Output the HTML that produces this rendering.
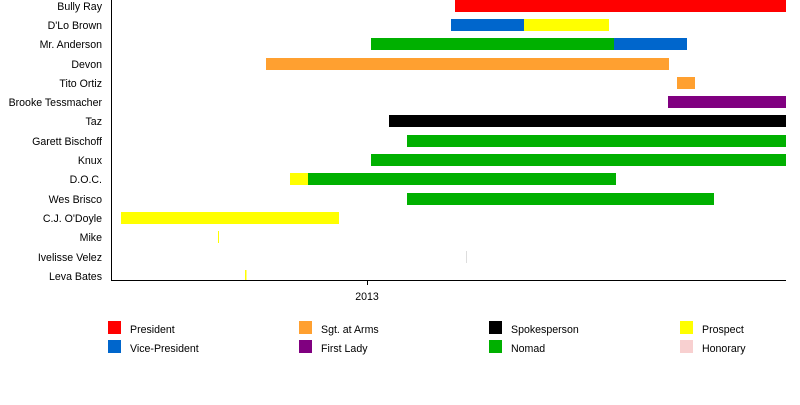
<!DOCTYPE html>
<html><head><style>
body{margin:0;background:#fff;width:800px;height:400px;overflow:hidden}
svg{font-family:"Liberation Sans",sans-serif;font-size:10.6px}
</style></head><body>
<svg width="800" height="400" xmlns="http://www.w3.org/2000/svg">
<g text-anchor="end" fill="#000">
<text x="102" y="10">Bully Ray</text>
<text x="102" y="29">D'Lo Brown</text>
<text x="102" y="48">Mr. Anderson</text>
<text x="102" y="68">Devon</text>
<text x="102" y="87">Tito Ortiz</text>
<text x="102" y="106">Brooke Tessmacher</text>
<text x="102" y="125">Taz</text>
<text x="102" y="145">Garett Bischoff</text>
<text x="102" y="164">Knux</text>
<text x="102" y="183">D.O.C.</text>
<text x="102" y="203">Wes Brisco</text>
<text x="102" y="222">C.J. O'Doyle</text>
<text x="102" y="241">Mike</text>
<text x="102" y="261">Ivelisse Velez</text>
<text x="102" y="280">Leva Bates</text>
</g>
<rect x="455" y="0" width="331" height="12" fill="#ff0000"/>
<rect x="451" y="19" width="73" height="12" fill="#0066cc"/>
<rect x="524" y="19" width="85" height="12" fill="#ffff00"/>
<rect x="371" y="38" width="243" height="12" fill="#00b000"/>
<rect x="614" y="38" width="73" height="12" fill="#0066cc"/>
<rect x="266" y="58" width="403" height="12" fill="#ffa030"/>
<rect x="677" y="77" width="18" height="12" fill="#ffa030"/>
<rect x="668" y="96" width="118" height="12" fill="#800080"/>
<rect x="389" y="115" width="397" height="12" fill="#000"/>
<rect x="407" y="135" width="379" height="12" fill="#00b000"/>
<rect x="371" y="154" width="415" height="12" fill="#00b000"/>
<rect x="290" y="173" width="18" height="12" fill="#ffff00"/>
<rect x="308" y="173" width="308" height="12" fill="#00b000"/>
<rect x="407" y="193" width="307" height="12" fill="#00b000"/>
<rect x="121" y="212" width="218" height="12" fill="#ffff00"/>
<rect x="218" y="231" width="1" height="12" fill="#ffff00"/>
<rect x="466" y="251" width="1" height="12" fill="#dddddd"/>
<rect x="245" y="270" width="1.5" height="10" fill="#ffff00"/>
<line x1="111.5" y1="0" x2="111.5" y2="280.5" stroke="#000"/>
<line x1="111" y1="280.5" x2="786" y2="280.5" stroke="#000"/>
<line x1="367.5" y1="280" x2="367.5" y2="285" stroke="#000"/>
<text x="367" y="300" text-anchor="middle">2013</text>
<g>
<rect x="108" y="321" width="13" height="13" fill="#ff0000"/><text x="130" y="333">President</text>
<rect x="108" y="340" width="13" height="13" fill="#0066cc"/><text x="130" y="352">Vice-President</text>
<rect x="299" y="321" width="13" height="13" fill="#ffa030"/><text x="321" y="333">Sgt. at Arms</text>
<rect x="299" y="340" width="13" height="13" fill="#800080"/><text x="321" y="352">First Lady</text>
<rect x="489" y="321" width="13" height="13" fill="#000"/><text x="511" y="333">Spokesperson</text>
<rect x="489" y="340" width="13" height="13" fill="#00b000"/><text x="511" y="352">Nomad</text>
<rect x="680" y="321" width="13" height="13" fill="#ffff00"/><text x="702" y="333">Prospect</text>
<rect x="680" y="340" width="13" height="13" fill="#f8d0d0"/><text x="702" y="352">Honorary</text>
</g>
</svg>
</body></html>
